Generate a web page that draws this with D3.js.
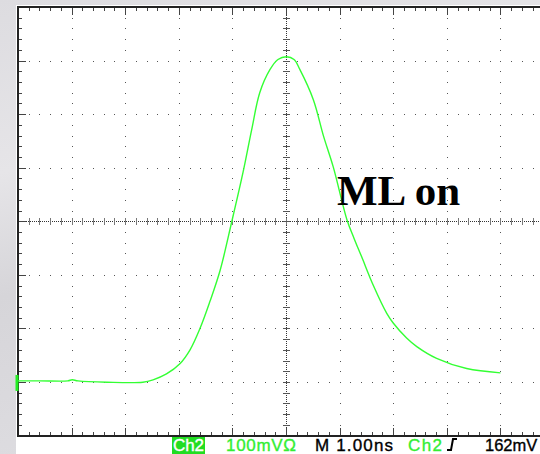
<!DOCTYPE html>
<html>
<head>
<meta charset="utf-8">
<script src="https://cdn.jsdelivr.net/npm/d3@7"></script>
<style>
  html, body { margin: 0; padding: 0; overflow: hidden; }
  body { width: 540px; height: 454px; }
</style>
</head>
<body>
<div id="chart"></div>
<script>
// trace: time (ns from trigger), level (mV above ground)
var timeNs = [-5.0, -4.6, -4.07, -3.99, -3.88, -3.34, -2.67, -2.48, -2.23, -1.98, -1.79, -1.60, -1.42, -1.23,
              -1.01, -0.80, -0.64, -0.49, -0.30, -0.15, 0.01, 0.15, 0.26, 0.51, 0.70, 0.88, 1.14, 1.27, 1.41,
              1.63, 1.88, 2.00, 2.25, 2.44, 2.81, 3.37, 4.0];
var levelMv = [2, 2, 2, 4, 2, -0.5, -0.5, 4, 15, 34, 60, 101, 150, 208,
               300, 392, 471, 540, 583, 602, 607, 602, 583, 527, 459, 402, 302, 268, 234,
               180, 128, 110, 82, 66, 44, 25, 17];

// scope graticule: 10 x 8 divisions
var timeDivs = d3.range(-5, 5.001, 1);
var levelDivs = d3.range(-100, 700.1, 100);

// status line along the bottom
var statusLabels = ["Ch2", "100mV\u03a9", "M 1.00ns", "Ch2", "162mV"];
var annotation = "ML on";

var width = 540, height = 454;

var svg = d3.select("#chart").append("svg")
    .attr("width", width)
    .attr("height", height);

var defs = svg.append("defs");
var grad = defs.append("linearGradient")
    .attr("id", "bg").attr("x1", 0).attr("y1", 0).attr("x2", 0.3).attr("y2", 1);
grad.append("stop").attr("offset", "0%").attr("stop-color", "#dddce0");
grad.append("stop").attr("offset", "35%").attr("stop-color", "#e6e5e8");
grad.append("stop").attr("offset", "60%").attr("stop-color", "#d6d5d9");
grad.append("stop").attr("offset", "100%").attr("stop-color", "#dedde1");

svg.append("rect").attr("width", width).attr("height", height).attr("fill", "url(#bg)");
// screen
svg.append("rect").attr("x", 16).attr("y", 5).attr("width", width - 16).attr("height", height - 5)
    .attr("fill", "#ffffff");

var x = d3.scaleLinear().domain([-5, 5]).range([18, 18 + 10 * 53.6]);
var y = d3.scaleLinear().domain([-100, 700]).range([435.5, 7]);

var minorT = d3.range(-5, 5.001, 0.2);
var minorV = d3.range(-100, 700.1, 20);

var grid = svg.append("g").attr("shape-rendering", "crispEdges");

// dotted major lines (not center, not border)
timeDivs.forEach(function (t) {
    if (t === -5 || t === 0) return;
    grid.selectAll(null).data(minorV.filter(function (v) { return v > -100 && v < 700; }))
        .enter().append("rect")
        .attr("x", Math.round(x(t)) - 0.5).attr("y", function (v) { return Math.round(y(v)) - 0.5; })
        .attr("width", 1.2).attr("height", 1.2).attr("fill", "#555");
});
levelDivs.forEach(function (v) {
    if (v === -100 || v === 700 || v === 300) return;
    grid.selectAll(null).data(minorT.filter(function (t) { return t > -5; }))
        .enter().append("rect")
        .attr("x", function (t) { return Math.round(x(t)) - 0.5; }).attr("y", Math.round(y(v)) - 0.5)
        .attr("width", 1.2).attr("height", 1.2).attr("fill", "#555");
});

// center axes: dense dots with ticks
var cx = Math.round(x(0)), cy = Math.round(y(300));
grid.append("line").attr("x1", x(-5)).attr("x2", width).attr("y1", cy + 0.5).attr("y2", cy + 0.5)
    .attr("stroke", "#333").attr("stroke-dasharray", "1,1");
grid.append("line").attr("x1", cx + 0.5).attr("x2", cx + 0.5).attr("y1", y(700)).attr("y2", y(-100))
    .attr("stroke", "#333").attr("stroke-dasharray", "1,1");
grid.selectAll(null).data(minorT.filter(function (t) { return t > -5; }))
    .enter().append("line")
    .attr("x1", function (t) { return Math.round(x(t)) + 0.5; })
    .attr("x2", function (t) { return Math.round(x(t)) + 0.5; })
    .attr("y1", cy - 3).attr("y2", cy + 4)
    .attr("stroke", "#777");
grid.selectAll(null).data(minorV.filter(function (v) { return v > -100 && v < 700; }))
    .enter().append("line")
    .attr("x1", cx - 3).attr("x2", cx + 4)
    .attr("y1", function (v) { return Math.round(y(v)) + 0.5; })
    .attr("y2", function (v) { return Math.round(y(v)) + 0.5; })
    .attr("stroke", "#555");

// edge ticks
grid.selectAll(null).data(minorT.filter(function (t) { return t > -5; }))
    .enter().append("line")
    .attr("x1", function (t) { return Math.round(x(t)) + 0.5; })
    .attr("x2", function (t) { return Math.round(x(t)) + 0.5; })
    .attr("y1", y(700)).attr("y2", function (t) { return y(700) + (Math.abs(t - Math.round(t)) < 0.01 ? 8 : 4); })
    .attr("stroke", "#444");
grid.selectAll(null).data(minorT.filter(function (t) { return t > -5; }))
    .enter().append("line")
    .attr("x1", function (t) { return Math.round(x(t)) + 0.5; })
    .attr("x2", function (t) { return Math.round(x(t)) + 0.5; })
    .attr("y1", y(-100)).attr("y2", function (t) { return y(-100) - (Math.abs(t - Math.round(t)) < 0.01 ? 8 : 4); })
    .attr("stroke", "#444");
grid.selectAll(null).data(minorV.filter(function (v) { return v > -100 && v < 700; }))
    .enter().append("line")
    .attr("x1", x(-5)).attr("x2", function (v) { return x(-5) + (v % 100 === 0 ? 8 : 4); })
    .attr("y1", function (v) { return Math.round(y(v)) + 0.5; })
    .attr("y2", function (v) { return Math.round(y(v)) + 0.5; })
    .attr("stroke", "#444");

// border
grid.append("line").attr("x1", x(-5)).attr("x2", width).attr("y1", y(700)).attr("y2", y(700))
    .attr("stroke", "#222").attr("stroke-width", 2);
grid.append("line").attr("x1", x(-5)).attr("x2", width).attr("y1", y(-100)).attr("y2", y(-100))
    .attr("stroke", "#222").attr("stroke-width", 2);
grid.append("line").attr("x1", x(-5)).attr("x2", x(-5)).attr("y1", y(700) - 1).attr("y2", y(-100) + 1)
    .attr("stroke", "#222").attr("stroke-width", 2);

// ground marker
svg.append("rect").attr("x", 15.5).attr("y", y(0) - 7).attr("width", 3).attr("height", 16)
    .attr("fill", "#22ee22");

// trace
var pts = timeNs.map(function (t, i) { return [t, levelMv[i]]; });
svg.append("path")
    .datum(pts)
    .attr("fill", "none")
    .attr("stroke", "#33ff33")
    .attr("stroke-width", 1.4)
    .attr("d", d3.line()
        .x(function (d) { return x(d[0]); })
        .y(function (d) { return y(d[1]); })
        .curve(d3.curveCatmullRom.alpha(0.5)));

// annotation
svg.append("text")
    .attr("x", 337).attr("y", 205)
    .attr("font-family", "'Liberation Serif', 'Times New Roman', serif")
    .attr("font-weight", "bold")
    .attr("font-size", 43)
    .attr("fill", "#000")
    .text(annotation);

// status line
var statusBar = svg.append("g")
    .attr("font-family", "'Liberation Sans', Arial, sans-serif")
    .attr("font-size", 17);
statusBar.append("rect").attr("x", 172).attr("y", 437).attr("width", 33).attr("height", 17).attr("fill", "#22dd22");
var statusX = [173, 226, 315, 408, 485];
var statusW = [31, 70, 78, 34, null];
var statusC = ["#ffffff", "#33ee33", "#000000", "#33ee33", "#000000"];
statusLabels.forEach(function (s, i) {
    var t = statusBar.append("text")
        .attr("x", statusX[i]).attr("y", 451)
        .attr("fill", statusC[i])
        .attr("stroke", statusC[i])
        .attr("stroke-width", 0.35)
        .text(s);
    if (statusW[i]) t.attr("textLength", statusW[i]).attr("lengthAdjust", "spacing");
    else t.attr("font-size", 16.5);
});
// trigger slope glyph
svg.append("path")
    .attr("d", "M447,450 L451,450 L453,439 L457,439")
    .attr("fill", "none").attr("stroke", "#000").attr("stroke-width", 2);
</script>
</body>
</html>
